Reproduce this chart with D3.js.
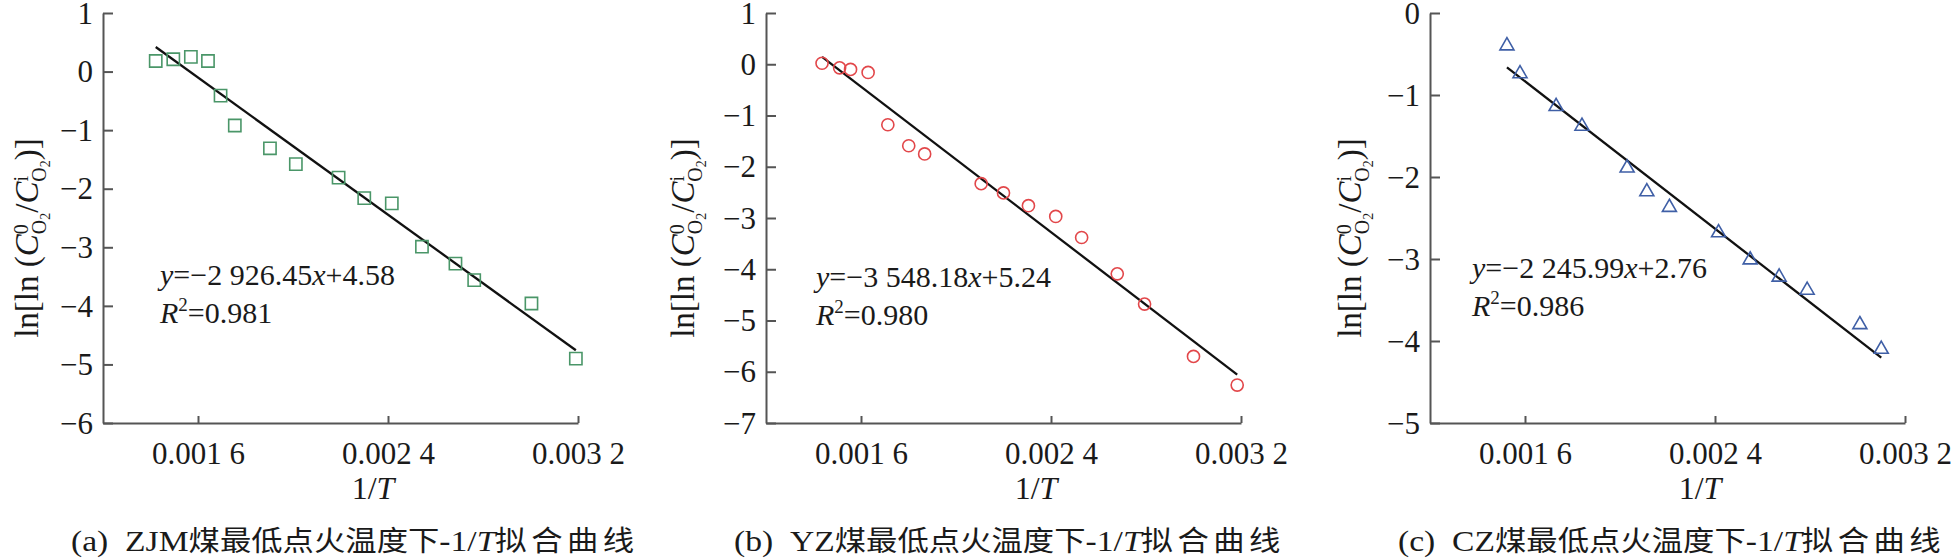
<!DOCTYPE html>
<html>
<head>
<meta charset="utf-8">
<script src="https://cdn.jsdelivr.net/npm/d3@7"></script>
<style>
  html, body { margin: 0; padding: 0; background: #fff; }
  svg { display: block; }
  text { font-family: "Liberation Serif", "Noto Sans CJK SC", serif; fill: #1a1a1a; }
</style>
</head>
<body>
<svg id="chart" width="1952" height="560"></svg>
<script>
// ---------- data ----------
const zjmX = [0.001422, 0.001496, 0.00157, 0.001642, 0.001695, 0.001755, 0.001903, 0.002012, 0.002192, 0.0023, 0.002416, 0.002543, 0.002684, 0.002763, 0.003004, 0.003191];
const zjmY = [0.18, 0.21, 0.25, 0.18, -0.41, -0.92, -1.31, -1.58, -1.81, -2.16, -2.25, -2.99, -3.28, -3.56, -3.96, -4.90];

const yzX = [0.001436, 0.00151, 0.001556, 0.00163, 0.001713, 0.001801, 0.001868, 0.002106, 0.0022, 0.002305, 0.00242, 0.002529, 0.002679, 0.002794, 0.003, 0.003184];
const yzY = [0.02, -0.07, -0.10, -0.16, -1.18, -1.59, -1.75, -2.33, -2.51, -2.76, -2.97, -3.38, -4.09, -4.68, -5.70, -6.26];

const czX = [0.001524, 0.001579, 0.001731, 0.00184, 0.00203, 0.002113, 0.002208, 0.002415, 0.002548, 0.00267, 0.002788, 0.00301, 0.0031];
const czY = [-0.40, -0.74, -1.14, -1.38, -1.89, -2.18, -2.37, -2.68, -3.01, -3.22, -3.38, -3.80, -4.10];

const fitSlope = [-2926.45, -3548.18, -2245.99];
const fitIntercept = [4.58, 5.24, 2.76];
const fitSlopeText = ["\u22122 926.45", "\u22123 548.18", "\u22122 245.99"];
const fitInterceptText = ["+4.58", "+5.24", "+2.76"];
const r2Text = ["=0.981", "=0.980", "=0.986"];

const xTickValues = [0.0016, 0.0024, 0.0032];
const xTickLabels = ["0.001 6", "0.002 4", "0.003 2"];
const xDomain = [0.0012, 0.0032];
const yDomains = [[-6, 1], [-7, 1], [-5, 0]];

const captionPrefix = ["(a)\u2002ZJM", "(b)\u2002YZ", "(c)\u2002CZ"];
const captionMid = "\u7164\u6700\u4f4e\u70b9\u706b\u6e29\u5ea6\u4e0b-1/";
const captionEnd = "\u62df\u5408\u66f2\u7ebf";

// ---------- layout ----------
const svg = d3.select("#chart");
const axisXs = [103, 766, 1430];
const plotW = 475, yTop = 13, yBot = 423;
const labelBase = [38, 694, 1361];
const eqBase = [[285, 323], [287, 325], [278, 316]];
const markerColor = ["#4a9668", "#e2474a", "#3f5fa6"];
const shapes = ["square", "circle", "triangle"];
const seriesX = [zjmX, yzX, czX];
const seriesY = [zjmY, yzY, czY];

const fmtY = d => (d < 0 ? "\u2212" + Math.abs(d) : String(d));

for (let p = 0; p < 3; p++) {
  const x0 = axisXs[p];
  const xs = d3.scaleLinear().domain(xDomain).range([x0, x0 + plotW]);
  const ys = d3.scaleLinear().domain(yDomains[p]).range([yBot, yTop]);
  const g = svg.append("g");

  // y axis
  const yAx = g.append("g").attr("transform", `translate(${x0},0)`)
    .call(d3.axisLeft(ys).ticks(yDomains[p][1] - yDomains[p][0]).tickFormat(fmtY)
      .tickSizeInner(-10).tickSizeOuter(0).tickPadding(10));
  // x axis
  const xAx = g.append("g").attr("transform", `translate(0,${yBot})`)
    .call(d3.axisBottom(xs).tickValues(xTickValues).tickFormat((d, i) => xTickLabels[i])
      .tickSizeInner(-7).tickSizeOuter(0).tickPadding(0));
  [yAx, xAx].forEach(a => {
    a.selectAll(".domain").attr("stroke", "#555").attr("stroke-width", 2);
    a.selectAll(".tick line").attr("stroke", "#555").attr("stroke-width", 2);
    a.selectAll("text").attr("font-family", "Liberation Serif").attr("font-size", 31).attr("fill", "#1a1a1a");
  });
  yAx.selectAll("text").attr("dy", "0.33em");
  xAx.selectAll("text").attr("dy", null).attr("y", 41);

  // fit line
  const lx = [d3.min(seriesX[p]), d3.max(seriesX[p])];
  g.append("path")
    .attr("d", d3.line().x(d => xs(d)).y(d => ys(fitSlope[p] * d + fitIntercept[p]))(lx))
    .attr("stroke", "#111").attr("stroke-width", 2.3).attr("fill", "none");

  // markers
  const pts = seriesX[p].map((v, i) => [v, seriesY[p][i]]);
  const sym = shapes[p] === "square" ? d3.symbolSquare : shapes[p] === "circle" ? d3.symbolCircle : d3.symbolTriangle;
  const size = shapes[p] === "square" ? 150 : shapes[p] === "circle" ? 115 : 85;
  g.selectAll("path.mk").data(pts).enter().append("path")
    .attr("class", "mk")
    .attr("transform", d => `translate(${xs(d[0])},${ys(d[1])})`)
    .attr("d", d3.symbol().type(sym).size(size))
    .attr("fill", "none").attr("stroke", markerColor[p]).attr("stroke-width", 1.6);

  // equation
  const eqx = x0 + [57, 50, 42][p];
  const t1 = g.append("text").attr("x", eqx).attr("y", eqBase[p][0]).attr("font-size", 30);
  t1.append("tspan").attr("font-style", "italic").text("y");
  t1.append("tspan").text("=" + fitSlopeText[p]);
  t1.append("tspan").attr("font-style", "italic").text("x");
  t1.append("tspan").text(fitInterceptText[p]);
  const t2 = g.append("text").attr("x", eqx).attr("y", eqBase[p][1]).attr("font-size", 30);
  t2.append("tspan").attr("font-style", "italic").text("R");
  t2.append("tspan").attr("font-size", 19).attr("dy", -12).text("2");
  t2.append("tspan").attr("dy", 12).text(r2Text[p]);

  // y label (baseline at labelBase, rotated)
  const yl = g.append("text")
    .attr("transform", `translate(${labelBase[p]},238) rotate(-90)`)
    .attr("text-anchor", "middle").attr("font-size", 33);
  yl.append("tspan").text("ln[ln (");
  yl.append("tspan").attr("font-style", "italic").text("C");
  yl.append("tspan").attr("font-size", 20).attr("dy", -10).text("0");
  yl.append("tspan").attr("font-size", 20).attr("dx", -10).attr("dy", 18).text("O");
  yl.append("tspan").attr("font-size", 14).attr("dy", 4).text("2");
  yl.append("tspan").attr("dy", -12).text("/");
  yl.append("tspan").attr("font-style", "italic").text("C");
  yl.append("tspan").attr("font-size", 20).attr("dy", -10).text("i");
  yl.append("tspan").attr("font-size", 20).attr("dx", -5.6).attr("dy", 18).text("O");
  yl.append("tspan").attr("font-size", 14).attr("dy", 4).text("2");
  yl.append("tspan").attr("dy", -12).text(")]");

  // x label
  const xl = g.append("text").attr("x", x0 + 270).attr("y", 499)
    .attr("text-anchor", "middle").attr("font-size", 32);
  xl.append("tspan").text("1/");
  xl.append("tspan").attr("font-style", "italic").text("T");

  // caption (reference is slightly stretched horizontally)
  const cap = g.append("text")
    .attr("transform", `translate(${x0 - 32},551) scale(1.12,1)`)
    .attr("font-size", 30);
  cap.append("tspan").text(captionPrefix[p]);
  cap.append("tspan").attr("font-family", "Noto Sans CJK SC").attr("font-size", 28).text(captionMid.slice(0, 8));
  cap.append("tspan").text(captionMid.slice(8));
  cap.append("tspan").attr("font-style", "italic").text("T");
  cap.append("tspan").attr("font-family", "Noto Sans CJK SC").attr("font-size", 28).attr("letter-spacing", 4).text(captionEnd);
}
</script>
</body>
</html>
